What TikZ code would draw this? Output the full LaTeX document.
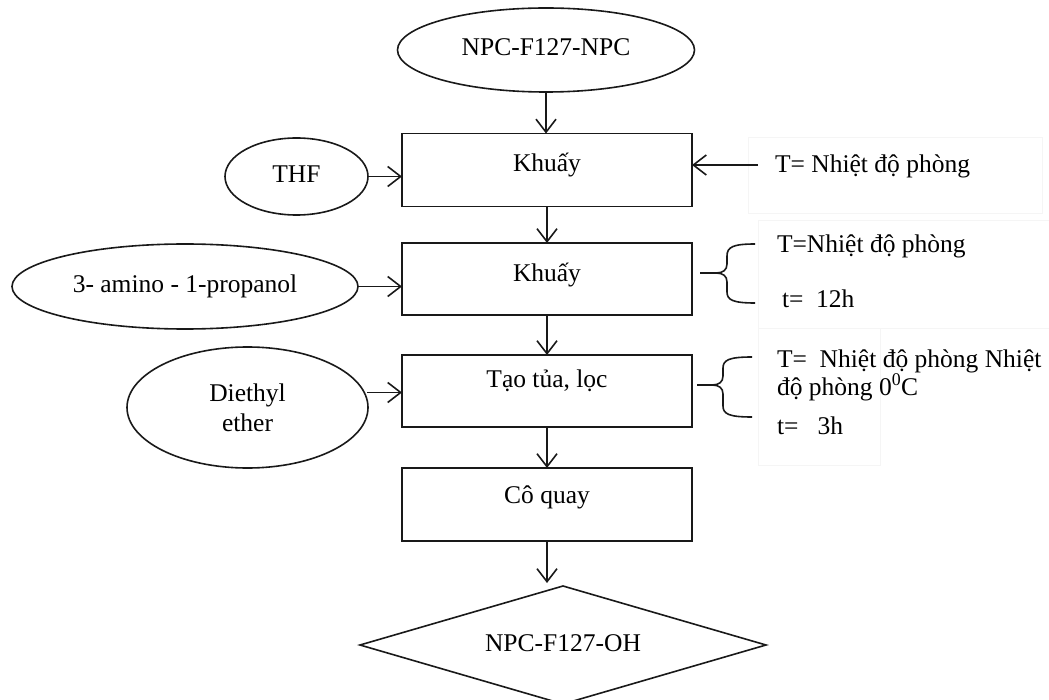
\documentclass[tikz,border=0pt]{standalone}
\usepackage{fontspec}
\setmainfont{Liberation Serif}
\usetikzlibrary{shapes.geometric,arrows.meta,calc}

\begin{document}
\begin{tikzpicture}[x=1pt,y=-1pt,
  every node/.style={font=\fontsize{25.5}{30}\selectfont, inner sep=0pt, outer sep=0pt},
  line/.style={line width=1.6pt, draw=black!90},
  flow/.style={line, -{Straight Barb[length=13pt,width=20pt,line width=1.6pt]}},
  stepbox/.style={rectangle, line, minimum width=290pt, minimum height=73pt,
                  text height=14pt, text depth=10pt},
  source/.style={ellipse, line},
  oneline/.style={text height=17.5pt, text depth=5.5pt},
  note/.style={anchor=base west},
  faint/.style={draw=black!4, line width=0.8pt}]

\clip (0,0) rectangle (1049,700);
\useasboundingbox (0,0) rectangle (1049,700);

% faint frames of the condition text boxes
\draw[faint] (748,137) rectangle (1042,213);
\draw[faint] (758,220) rectangle (1060,328);
\draw[faint] (758,328) rectangle (880,465);

% main column
\node[source, oneline, minimum width=297pt, minimum height=84pt] (start) at (546,50) {NPC-F127-NPC};
\node[stepbox] (s1) at (547,170) {Khuấy};
\node[stepbox, minimum height=72pt, text height=15pt, text depth=9pt] (s2) at (547,279) {Khuấy};
\node[stepbox, minimum height=72pt, text height=9pt, text depth=15pt] (s3) at (547,391) {Tạo tủa, lọc};
\node[stepbox, text height=11pt, text depth=13pt] (s4) at (547,504.5) {Cô quay};
\node[diamond, line, oneline, shape aspect=3.44, minimum width=406pt, minimum height=118pt] (product) at (563,645) {NPC-F127-OH};

% reagents
\node[source, oneline, minimum width=143pt, minimum height=77pt] (thf) at (296.5,176.5) {THF};
\node[source, oneline, minimum width=346pt, minimum height=85pt] (amino) at (185,286.5) {3- amino - 1-propanol};
\node[source, align=center, minimum width=241pt, minimum height=121pt] (ether) at (247.5,407.5) {Diethyl\\ether};

% conditions
\node[note] (c1) at (775,173) {T= Nhiệt độ phòng};
\coordinate (c1tail) at (758,165);
\node[note] (c2a) at (777,253) {T=Nhiệt độ phòng};
\node[note] (c2b) at (782,308) {t=\ \ 12h};
\node[note, align=left] (c3a) at (777,395) {T=\ \ Nhiệt độ phòng Nhiệt\\[-2pt]độ phòng 0\textsuperscript{0}C};
\node[note] (c3c) at (777,434) {t=\ \ \ 3h};

% flow arrows
\draw[flow] (start.south) -- (start.south |- s1.north);
\draw[flow] (s1.south) -- (s2.north);
\draw[flow] (s2.south) -- (s3.north);
\draw[flow] (s3.south) -- (s4.north);
\draw[flow, shorten >=3pt] (s4.south) -- (s4.south |- product.north);

\coordinate (etherout) at ($(ether.east)+(-1,-15)$);
\draw[flow] (thf.east) -- (thf.east -| s1.west);
\draw[flow] (amino.east) -- (amino.east -| s2.west);
\draw[flow] (etherout) -- (etherout -| s3.west);
\draw[flow] (c1tail) -- (c1tail -| s1.east);

% braces
\draw[line] (700,273) -- (716,273)
  .. controls (723,273) and (727,270) .. (727,264) -- (727,256)
  .. controls (727,247) and (733,244) .. (755,244)
  (716,273) .. controls (723,273) and (727,276) .. (727,282) -- (727,292)
  .. controls (727,300) and (733,303) .. (755,303);
\draw[line] (697,385) -- (712,385)
  .. controls (719,385) and (723,382) .. (723,376) -- (723,368)
  .. controls (723,360) and (729,357) .. (752,357)
  (712,385) .. controls (719,385) and (723,388) .. (723,394) -- (723,406)
  .. controls (723,414) and (729,417) .. (752,417);
\end{tikzpicture}
\end{document}
